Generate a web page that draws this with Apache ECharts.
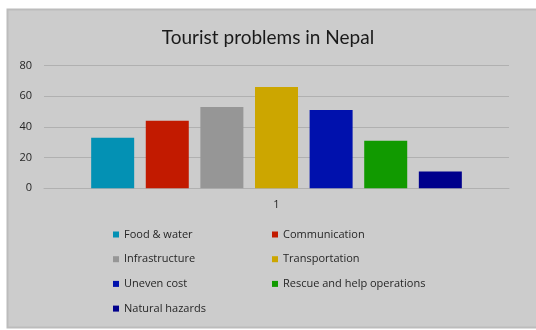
<!DOCTYPE html>
<html>
<head>
<meta charset="utf-8">
<style>
  html, body { margin: 0; padding: 0; background: #ffffff; }
  #chart { width: 536px; height: 330px; }
</style>
<script src="https://cdn.jsdelivr.net/npm/echarts@6/dist/echarts.min.js"></script>
</head>
<body>
<div id="chart"></div>
<script>
// Survey of problems reported by tourists in Nepal (single category "1")
const categories = ['1'];
const seriesNames = [
  'Food & water', 'Communication', 'Infrastructure', 'Transportation',
  'Uneven cost', 'Rescue and help operations', 'Natural hazards'
];
const seriesValues = [33, 44, 53, 66, 51, 31, 11];
const seriesColors = ['#0391b4', '#c21a00', '#969696', '#cca600', '#0011ad', '#119a00', '#00008c'];
const yTicks = { min: 0, max: 80, interval: 20 };

const legendLeftCol = [seriesNames[0], seriesNames[2], seriesNames[4], seriesNames[6]];
const legendRightCol = [seriesNames[1], seriesNames[3], seriesNames[5]];

const chart = echarts.init(document.getElementById('chart'), null, { renderer: 'canvas' });

const legendText = { fontFamily: 'Open Sans', fontSize: 11, color: '#262626' };
const legendBase = {
  orient: 'vertical',
  top: 229,
  padding: 0,
  itemWidth: 6,
  itemHeight: 6,
  itemGap: 13.7,
  icon: 'rect',
  selectedMode: false,
  textStyle: legendText
};

chart.setOption({
  backgroundColor: '#ffffff',
  animation: false,
  graphic: [{
    type: 'rect',
    z: -10,
    shape: { x: 7.5, y: 9.5, width: 540, height: 318 },
    style: { fill: '#cccccc', stroke: '#bcbcbc', lineWidth: 2 }
  }],
  title: {
    text: 'Tourist problems in Nepal',
    left: 'center',
    top: 23,
    textStyle: { fontFamily: 'Lato', fontSize: 19, fontWeight: 'normal', color: '#1a1a1a' }
  },
  legend: [
    Object.assign({}, legendBase, { left: 113, data: legendLeftCol }),
    Object.assign({}, legendBase, { left: 272, data: legendRightCol })
  ],
  grid: { left: 44, right: 27, top: 65.5, bottom: 141.7 },
  xAxis: {
    type: 'category',
    data: categories,
    axisLine: { lineStyle: { color: '#b0b0b0', width: 1 } },
    axisTick: { show: false },
    axisLabel: { margin: 11, fontFamily: 'Open Sans', fontSize: 11, color: '#262626' }
  },
  yAxis: {
    type: 'value',
    min: yTicks.min,
    max: yTicks.max,
    interval: yTicks.interval,
    axisLine: { show: false },
    axisTick: { show: false },
    splitLine: { lineStyle: { color: '#b0b0b0', width: 1 } },
    axisLabel: { margin: 12, fontFamily: 'Open Sans', fontSize: 11, color: '#262626' }
  },
  series: seriesNames.map((name, i) => ({
    name: name,
    type: 'bar',
    data: [seriesValues[i]],
    barWidth: 43,
    barGap: '27%',
    itemStyle: { color: seriesColors[i] }
  }))
});
</script>
</body>
</html>
